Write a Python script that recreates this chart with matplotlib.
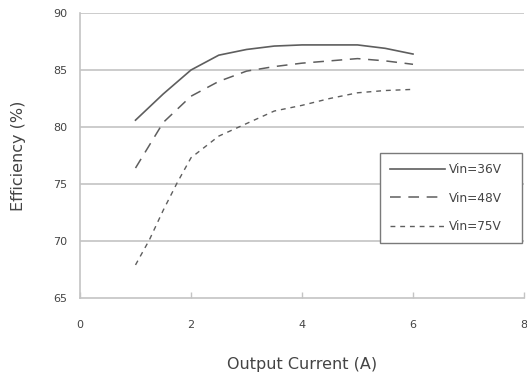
import matplotlib.pyplot as plt

plt.rcParams['font.family'] = ['DejaVu Sans']

# efficiency curves for three input voltages
current_36v = [1, 1.5, 2, 2.5, 3, 3.5, 4, 4.5, 5, 5.5, 6]
eff_36v = [80.6, 82.9, 85.0, 86.3, 86.8, 87.1, 87.2, 87.2, 87.2, 86.9, 86.4]

current_48v = [1, 1.5, 2, 2.5, 3, 3.5, 4, 4.5, 5, 5.5, 6]
eff_48v = [76.4, 80.4, 82.7, 84.0, 84.9, 85.3, 85.6, 85.8, 86.0, 85.8, 85.5]

current_75v = [1, 1.25, 1.5, 1.75, 2, 2.5, 3, 3.5, 4, 4.5, 5, 5.5, 6]
eff_75v = [67.9, 70.1, 72.7, 75.1, 77.3, 79.2, 80.3, 81.4, 81.9, 82.5, 83.0, 83.2, 83.3]

labels = ['Vin=36V', 'Vin=48V', 'Vin=75V']
x_ticks = [0, 2, 4, 6, 8]
y_ticks = [65, 70, 75, 80, 85, 90]

line_color = '#5e5e5e'
grid_color = '#c4c4c4'
text_color = '#444444'

fig = plt.figure(figsize=(5.27, 3.79), dpi=100)
ax = fig.add_axes([80 / 527, 1 - 298 / 379, 444 / 527, 285 / 379])

ax.plot(current_36v, eff_36v, color=line_color, lw=1.2, ls='-', label=labels[0])
ax.plot(current_48v, eff_48v, color=line_color, lw=1.1, ls=(0, (7, 5)), label=labels[1])
ax.plot(current_75v, eff_75v, color=line_color, lw=1.0, ls=(0, (3.5, 3.5)), label=labels[2])

ax.set_xlim(0, 8)
ax.set_ylim(65, 90)
ax.set_xticks(x_ticks)
ax.set_yticks(y_ticks)

# horizontal grid only
for y in y_ticks[1:]:
    ax.axhline(y, color=grid_color, lw=1.2, zorder=0)

for side in ['top', 'right']:
    ax.spines[side].set_visible(False)
for side in ['left', 'bottom']:
    ax.spines[side].set_color(grid_color)
    ax.spines[side].set_linewidth(1.2)

ax.tick_params(axis='x', direction='in', length=4, width=1, color=grid_color,
               labelsize=8, labelcolor=text_color, pad=16)
ax.tick_params(axis='y', length=0, labelsize=8, labelcolor=text_color, pad=9)

ax.set_xlabel('Output Current (A)', fontsize=11.5, color=text_color, labelpad=19)
ax.set_ylabel('Efficiency (%)', fontsize=11.5, color=text_color, labelpad=20)

# legend box stretched to a fixed width, items sit at its left
leg = ax.legend(loc='lower left', bbox_to_anchor=(0.676, 0.193, 0.32, 0.3),
                mode='expand', fontsize=8.7, frameon=True, fancybox=False,
                handlelength=4.6, labelspacing=1.3, borderpad=0.8,
                handletextpad=0.3, borderaxespad=0)
leg.get_frame().set_edgecolor('#7a7a7a')
leg.get_frame().set_linewidth(1.0)
leg.get_frame().set_alpha(1)
for t in leg.get_texts():
    t.set_color(text_color)

fig.savefig('out.png', dpi=100, facecolor='white')
